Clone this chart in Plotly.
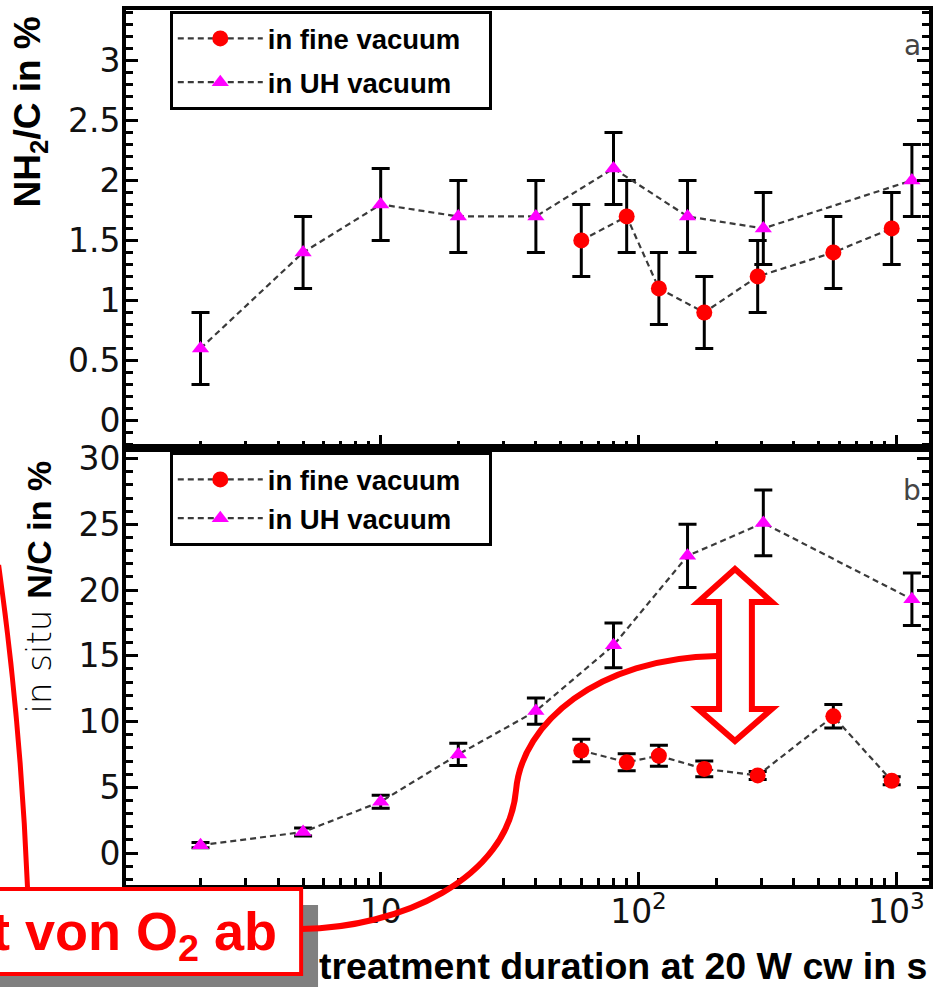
import plotly.graph_objects as go
from plotly.subplots import make_subplots

# treatment durations in s
t_uh = [2, 5, 10, 20, 40, 80, 155, 305, 1150]
t_fine = [60, 90, 120, 180, 290, 570, 960]

# panel a: NH2/C in %
nh2_uh = [0.6, 1.4, 1.8, 1.7, 1.7, 2.1, 1.7, 1.6, 2.0]
nh2_uh_err = [0.3, 0.3, 0.3, 0.3, 0.3, 0.3, 0.3, 0.3, 0.3]
nh2_fine = [1.5, 1.7, 1.1, 0.9, 1.2, 1.4, 1.6]
nh2_fine_err = [0.3, 0.3, 0.3, 0.3, 0.3, 0.3, 0.3]

# panel b: in situ N/C in %
nc_uh = [0.6, 1.6, 3.9, 7.5, 10.8, 15.8, 22.6, 25.1, 19.3]
nc_uh_err = [0.2, 0.3, 0.5, 0.85, 1.0, 1.7, 2.4, 2.5, 2.0]
nc_fine = [7.8, 6.9, 7.4, 6.4, 5.9, 10.4, 5.5]
nc_fine_err = [0.85, 0.65, 0.8, 0.6, 0.3, 0.9, 0.3]

x_major = [10, 100, 1000]
x_major_text = ["10", "10<sup>2</sup>", "10<sup>3</sup>"]
x_minor = [m * d for d in (1, 10, 100) for m in range(2, 10)]

series_names = ["in fine vacuum", "in UH vacuum"]

W, H = 935, 987
ML, MR, MT, MB = 126, 2, 10, 102


def px_x(px):
    return (px - ML) / (W - ML - MR)


def px_y(py):
    return (H - MB - py) / (H - MT - MB)


fig = make_subplots(rows=2, cols=1, shared_xaxes=True, vertical_spacing=0)

line_style = dict(color="#3a3a3a", width=2.2, dash="6px,4px")
fine_marker = dict(symbol="circle", size=16, color="#ff0000")
uh_marker = dict(symbol="triangle-up", size=15, color="#ff00ff")
pad = "&nbsp;" * 3


def err(arr):
    return dict(type="data", array=arr, color="black", thickness=3, width=9)


panels = [
    (1, nh2_fine, nh2_fine_err, nh2_uh, nh2_uh_err, "legend"),
    (2, nc_fine, nc_fine_err, nc_uh, nc_uh_err, "legend2"),
]
for row, fine, fine_e, uh, uh_e, leg in panels:
    fig.add_trace(go.Scatter(x=t_fine, y=fine, mode="lines+markers", name=series_names[0] + pad,
                             line=line_style, marker=fine_marker, error_y=err(fine_e),
                             legend=leg, legendgroup="fine"), row=row, col=1)
    fig.add_trace(go.Scatter(x=t_uh, y=uh, mode="lines+markers", name=series_names[1] + pad,
                             line=line_style, marker=uh_marker, error_y=err(uh_e),
                             legend=leg, legendgroup="uh"), row=row, col=1)

tick_font = dict(family="DejaVu Sans", size=33, color="#111")
x_common = dict(type="log", range=[0.012, 3.127], showline=True, linewidth=4, linecolor="black",
                mirror=True, ticks="inside", ticklen=13, tickwidth=3, tickcolor="black",
                tickmode="array", tickvals=x_major, ticktext=x_major_text,
                minor=dict(tickmode="array", tickvals=x_minor, ticks="inside", ticklen=7,
                           tickwidth=2.5, tickcolor="black"),
                showgrid=False, zeroline=False, tickfont=tick_font, ticklabelstandoff=-6)
fig.update_xaxes(**x_common)
fig.update_xaxes(showticklabels=False, row=1, col=1)
fig.update_xaxes(showticklabels=True, row=2, col=1)

y_common = dict(showline=True, linewidth=4, linecolor="black", mirror="ticks", ticks="inside",
                ticklen=12, tickwidth=3, tickcolor="black", showgrid=False, zeroline=False,
                tickfont=tick_font, ticklabelstandoff=-5)
fig.update_yaxes(**y_common)
fig.update_yaxes(range=[-0.225, 3.42], tick0=0, dtick=0.5,
                 minor=dict(dtick=0.1, ticks="inside", ticklen=7, tickwidth=2.5, tickcolor="black"),
                 row=1, col=1)
fig.update_yaxes(range=[-2.43, 30.84], tick0=0, dtick=5,
                 minor=dict(dtick=1, ticks="inside", ticklen=7, tickwidth=2.5, tickcolor="black"),
                 row=2, col=1)

legend_style = dict(bgcolor="white", bordercolor="black", borderwidth=3, xanchor="left",
                    yanchor="top", itemwidth=85,
                    font=dict(family="Liberation Sans", size=27.5, color="black", weight="bold"))
fig.update_layout(
    width=W, height=H,
    margin=dict(l=ML, r=MR, t=MT, b=MB),
    paper_bgcolor="white", plot_bgcolor="white",
    showlegend=True,
    legend=dict(x=px_x(170), y=px_y(11), tracegroupgap=5, **legend_style),
    legend2=dict(x=px_x(170), y=px_y(452), tracegroupgap=0, **legend_style),
)

bold = dict(family="Liberation Sans", color="black", weight="bold")
annotations = [
    dict(text="NH<sub>2</sub>/C in %", x=px_x(30), y=px_y(112), textangle=-90,
         font=dict(size=37, **bold)),
    dict(text="<span style=\"font-family:'DejaVu Sans';font-weight:200\">in situ </span>N/C in %",
         x=px_x(39), y=px_y(587), textangle=-90, font=dict(size=34, **bold)),
    dict(text="treatment duration at 20 W cw in s", x=px_x(625), y=px_y(966),
         font=dict(size=37.5, **bold)),
    dict(text="a", x=px_x(916), y=px_y(45), font=dict(family="DejaVu Sans", size=28, color="#444")),
    dict(text="b", x=px_x(916), y=px_y(490), font=dict(family="DejaVu Sans", size=28, color="#444")),
]
for a in annotations:
    a.update(xref="paper", yref="paper", showarrow=False, xanchor="center", yanchor="middle")
annotations.append(dict(text="t von O<sub>2</sub> ab", xref="paper", yref="paper",
                        x=px_x(280), y=px_y(935), xanchor="right", yanchor="middle",
                        showarrow=False,
                        font=dict(family="Liberation Sans", size=54, color="#ff0000",
                                  weight="bold")))
fig.update_layout(annotations=annotations)


def path(points, cmds):
    out = []
    for c, pts in zip(cmds, points):
        coords = " ".join(f"{px_x(x):.5f},{px_y(y):.5f}" for x, y in pts)
        out.append(f"{c}{coords}")
    return " ".join(out)


red = "#ff0000"
shapes = [
    # shadow and frame of the note box
    dict(type="rect", x0=px_x(-10), x1=px_x(319), y0=px_y(905), y1=px_y(995),
         fillcolor="#808080", line=dict(width=0)),
    dict(type="rect", x0=px_x(-10), x1=px_x(302), y0=px_y(889), y1=px_y(974),
         fillcolor="white", line=dict(color=red, width=4)),
    # connector from the left edge into the note box
    dict(type="path", path=path([[(-2, 565)], [(20, 720), (27, 887)]], ["M", "Q"]),
         line=dict(color=red, width=5)),
    # connector from the note box to the double arrow
    dict(type="path",
         path=path([[(302, 929)], [(400, 928), (510, 880), (518, 790)],
                    [(524, 723), (600, 658), (720, 656)]], ["M", "C", "C"]),
         line=dict(color=red, width=6)),
    # hollow double arrow between the two series
    dict(type="path",
         path=path([[(738, 569)], [(775, 602)], [(755, 602)], [(755, 709)], [(775, 709)],
                    [(738, 741)], [(701, 709)], [(722, 709)], [(722, 602)], [(701, 602)]],
                   ["M", "L", "L", "L", "L", "L", "L", "L", "L", "L"]) + " Z",
         fillcolor="white", line=dict(color=red, width=6)),
]
for s in shapes:
    s.update(xref="paper", yref="paper", layer="above")
fig.update_layout(shapes=shapes)

fig.write_html("out.html")
